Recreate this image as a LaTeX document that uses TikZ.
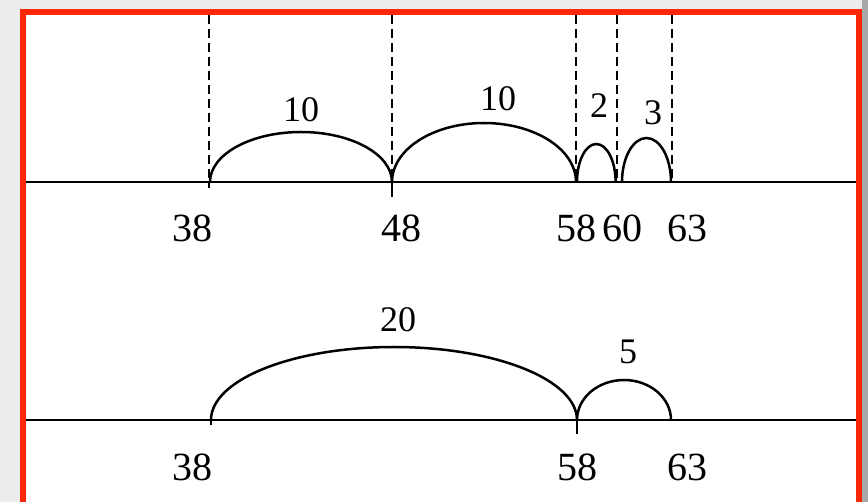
\documentclass[tikz,border=0pt]{standalone}
\usepackage{fontspec}
\setmainfont{Liberation Serif}
\definecolor{framered}{RGB}{250,40,8}
\definecolor{outgrey}{RGB}{236,236,236}
\definecolor{edgegrey}{RGB}{168,168,168}
\tikzset{
  axisline/.style={line width=2.8pt,black},
  arcline/.style={line width=2.5pt,black},
  guide/.style={line width=2.6pt,black,dash pattern=on 9pt off 5pt},
  arclabel/.style={inner sep=0pt,font=\fontsize{36}{40}\selectfont},
  ticklabel/.style={inner sep=0pt,font=\fontsize{40}{44}\selectfont},
}
\begin{document}
\begin{tikzpicture}[x=1pt,y=-1pt]
\useasboundingbox (0,0) rectangle (868,502);
% backdrop and frame
\fill[outgrey] (0,0) rectangle (868,502);
\fill[edgegrey] (862,0) rectangle (868,502);
\fill[framered] (20,9) rectangle (862,502);
\fill[white] (26,15) rectangle (856,502);

% coordinates on the upper line
\coordinate (u38) at (209,182);
\coordinate (u48) at (392,182);
\coordinate (u58) at (576,182);
\coordinate (u60) at (617,182);
\coordinate (u63) at (672,182);
\coordinate (t38) at (209,15);
\coordinate (t48) at (392,15);
\coordinate (t58) at (576,15);
\coordinate (t60) at (617,15);
\coordinate (t63) at (672,15);
\coordinate (uL) at (26,182);
\coordinate (uR) at (856,182);
% coordinates on the lower line
\coordinate (l38) at (211,420);
\coordinate (l58) at (577,420);
\coordinate (l63) at (671,420);
\coordinate (lL) at (26,420);
\coordinate (lR) at (856,420);

% dashed guides
\foreach \n in {38,48,58,60,63} \draw[guide] (t\n) -- (u\n);

% axes
\draw[axisline] (uL) -- (uR);
\draw[axisline] (lL) -- (lR);

% upper arcs
\draw[arcline] (210,182) arc[start angle=180,end angle=360,x radius=91,y radius=50];
\draw[arcline] (392,182) arc[start angle=180,end angle=360,x radius=92,y radius=59];
\draw[arcline] (577,182) arc[start angle=180,end angle=360,x radius=19.3,y radius=38];
\draw[arcline] (622,182) arc[start angle=180,end angle=360,x radius=24.5,y radius=44];
% small overshoots below the upper line
\draw[arcline] (u38) -- ++(0,6);
\draw[arcline] (u48) -- ++(0,15);

% lower arcs
\draw[arcline] (211,420) arc[start angle=180,end angle=360,x radius=183,y radius=73];
\draw[arcline] (577,420) arc[start angle=180,end angle=360,x radius=47,y radius=40];
\draw[arcline] (l38) -- ++(0,5);
\draw[arcline] (l58) -- ++(0,14);

% arc labels
\node[arclabel] (a1) at (301,110) {10};
\node[arclabel] (a2) at (498,99) {10};
\node[arclabel] (a3) at (599,106) {2};
\node[arclabel] (a4) at (653,113) {3};
\node[arclabel] (b1) at (398,320) {20};
\node[arclabel] (b2) at (628,352) {5};

% tick labels, upper
\node[ticklabel] (n38) at (192,228) {38};
\node[ticklabel] (n48) at (401,228) {48};
\node[ticklabel] (n58) at (576,228) {58};
\node[ticklabel] (n60) at (622,228) {60};
\node[ticklabel] (n63) at (687,228) {63};
% tick labels, lower
\node[ticklabel] (m38) at (192,467) {38};
\node[ticklabel] (m58) at (577,467) {58};
\node[ticklabel] (m63) at (687,467) {63};
\end{tikzpicture}
\end{document}
